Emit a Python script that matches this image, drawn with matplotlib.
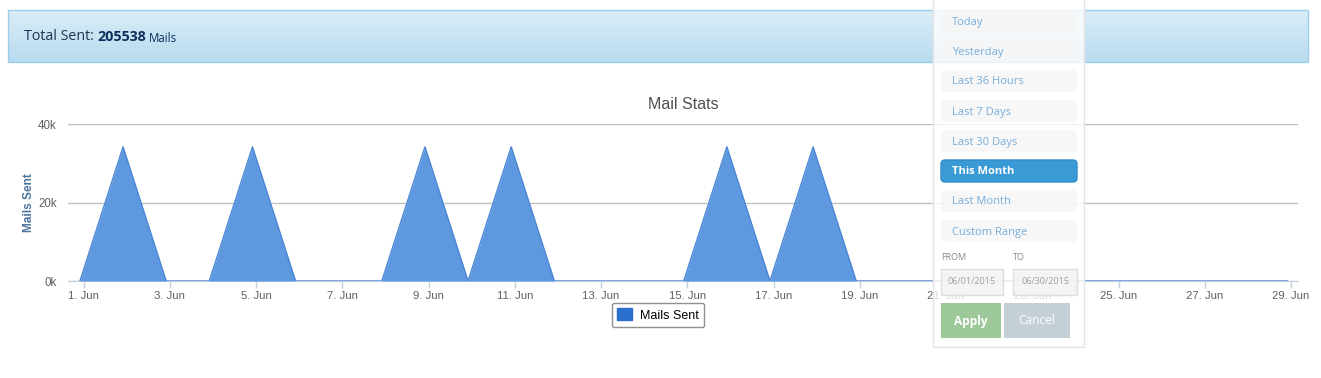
import numpy as np
import pandas as pd
import matplotlib
matplotlib.use("Agg")
import matplotlib.pyplot as plt
import matplotlib.dates as mdates
from matplotlib.patches import Rectangle, FancyBboxPatch, Patch

# daily mail counts for June 2015 (points sit at 22:00 the evening before, UTC shift)
days = pd.date_range("2015-05-31 22:00", periods=29, freq="D")
mails = [0, 34257, 0, 0, 34257, 0, 0, 0, 34256, 0, 34256, 0, 0, 0, 0,
         34256, 0, 34256, 0, 0, 0, 0, 0, 0, 0, 0, 0, 0, 0]
total_sent = 205538
tick_days = pd.date_range("2015-06-01", "2015-06-29", freq="2D")
tick_labels = [f"{d.day}. Jun" for d in tick_days]
y_ticks = [0, 20000, 40000]
y_labels = ["0k", "20k", "40k"]

menu_items = ["Today", "Yesterday", "Last 36 Hours", "Last 7 Days",
              "Last 30 Days", "This Month", "Last Month", "Custom Range"]
active_item = "This Month"
date_from, date_to = "06/01/2015", "06/30/2015"

W, H = 1321, 378
fig = plt.figure(figsize=(W / 100, H / 100), dpi=100)
fig.patch.set_facecolor("white")

# background layer: header bar
bg = fig.add_axes([0, 0, 1, 1], zorder=0)
bg.set_xlim(0, W)
bg.set_ylim(H, 0)
bg.axis("off")
grad = np.linspace(0, 1, 64).reshape(-1, 1)
c_top = np.array([218, 237, 247]) / 255
c_bot = np.array([185, 219, 240]) / 255
img = c_top + grad[..., None] * (c_bot - c_top)
img = np.repeat(img, 2, axis=1)
bg.imshow(img, extent=(8, 1308, 62, 10), aspect="auto", zorder=1)
bg.add_patch(Rectangle((8, 10), 1300, 52, fill=False, edgecolor="#9dcfea", lw=1, zorder=2))
t1 = bg.text(24, 37, "Total Sent: ", fontsize=10.3, color="#1f3550", family="Open Sans",
             va="center", ha="left")
fig.canvas.draw()
bb = t1.get_window_extent()
t2 = bg.text(bb.x1, 37, f"{total_sent}", fontsize=10.3, color="#0e2f5c", family="Open Sans",
             fontweight="bold", va="center", ha="left")
fig.canvas.draw()
bb2 = t2.get_window_extent()
bg.text(bb2.x1 + 3, 38, "Mails", fontsize=8.3, color="#0e2f5c", family="Open Sans",
        va="center", ha="left")

# main chart
ax = fig.add_axes([68 / W, (H - 281) / H, 1230 / W, (281 - 124.3) / H], zorder=1)
ax.patch.set_alpha(0)
ax.fill_between(days, mails, 0, color="#5e99df", lw=0, zorder=2)
ax.plot(days, mails, color="#4c88d6", lw=1, zorder=3)
x0 = mdates.date2num(pd.Timestamp("2015-06-01"))
ax.set_xlim(x0 - 0.36, x0 + 28.16)
ax.set_ylim(0, 40000)
ax.set_yticks(y_ticks)
ax.set_yticklabels(y_labels)
ax.set_xticks(tick_days)
ax.set_xticklabels(tick_labels)
for s in ["top", "right", "left"]:
    ax.spines[s].set_visible(False)
ax.spines["bottom"].set_color("#c0d0e0")
ax.spines["bottom"].set_zorder(1)
ax.grid(axis="y", color="#c0c0c0", lw=1)
ax.set_axisbelow(True)
ax.tick_params(axis="y", length=0, pad=8, labelsize=8.3, labelcolor="#606060")
ax.tick_params(axis="x", length=5, width=1, color="#c0d0e0", pad=2,
               labelsize=8.2, labelcolor="#606060")
for lab in ax.get_xticklabels() + ax.get_yticklabels():
    lab.set_family("Liberation Sans")
ax.set_ylabel("Mails Sent", fontsize=8.6, color="#4d759e", fontweight="bold",
              family="Liberation Sans", labelpad=2)
ax.set_title("Mail Stats", fontsize=11.5, color="#505050", family="Liberation Sans", pad=11)

fig.legend(handles=[Patch(facecolor="#2a70cf", edgecolor="#2a70cf", label="Mails Sent")],
           loc="center", bbox_to_anchor=(658 / W, 1 - 315 / H), frameon=True, fancybox=True,
           edgecolor="#909090", framealpha=1, prop={"family": "Liberation Sans", "size": 9},
           handlelength=1.2, handleheight=1.1, borderpad=0.45, handletextpad=0.6)

# date range dropdown overlay
ov = fig.add_axes([0, 0, 1, 1], zorder=3)
ov.set_xlim(0, W)
ov.set_ylim(H, 0)
ov.axis("off")
ov.patch.set_alpha(0)
ov.add_patch(Rectangle((933, -2), 151, 349, facecolor="white", alpha=0.78,
                       edgecolor="none", zorder=1))
ov.add_patch(Rectangle((933, -2), 151, 349, fill=False, edgecolor="#e4e4e4", lw=1, zorder=2))
for i, item in enumerate(menu_items):
    yc = 21 + 30 * i
    active = item == active_item
    fc = "#3a9ad6" if active else "#f5f5f5"
    ov.add_patch(FancyBboxPatch((941, yc - 11), 136, 22, boxstyle="round,pad=0,rounding_size=4",
                                facecolor=fc, edgecolor="#2f8ccb" if active else "none",
                                alpha=1 if active else 0.75, zorder=3))
    ov.text(952, yc + 1, item, fontsize=8, family="Open Sans", va="center", ha="left",
            color="white" if active else "#78aedb", fontweight="bold" if active else "normal",
            zorder=4)
ov.text(941, 258, "FROM", fontsize=6.5, family="Open Sans", color="#8a8a8a", va="center", zorder=4)
ov.text(1013, 258, "TO", fontsize=6.5, family="Open Sans", color="#8a8a8a", va="center", zorder=4)
for xl, w, txt in [(941, 62, date_from), (1013, 64, date_to)]:
    ov.add_patch(Rectangle((xl, 269), w, 26, facecolor="#f2f2f2", alpha=0.8,
                           edgecolor="#d8d8d8", lw=1, zorder=3))
    ov.text(xl + w / 2, 282, txt, fontsize=6.5, family="Open Sans", color="#a0a0a0",
            ha="center", va="center", zorder=4)
ov.add_patch(Rectangle((941, 303), 60, 35, facecolor="#9dc899", edgecolor="none", zorder=3))
ov.text(971, 321, "Apply", fontsize=8.6, family="Open Sans", color="white", fontweight="bold",
        ha="center", va="center", zorder=4)
ov.add_patch(Rectangle((1004, 303), 66, 35, facecolor="#c5cfd6", edgecolor="none", zorder=3))
ov.text(1037, 321, "Cancel", fontsize=8.6, family="Open Sans", color="white",
        ha="center", va="center", zorder=4)

fig.savefig("out.png", dpi=100)
